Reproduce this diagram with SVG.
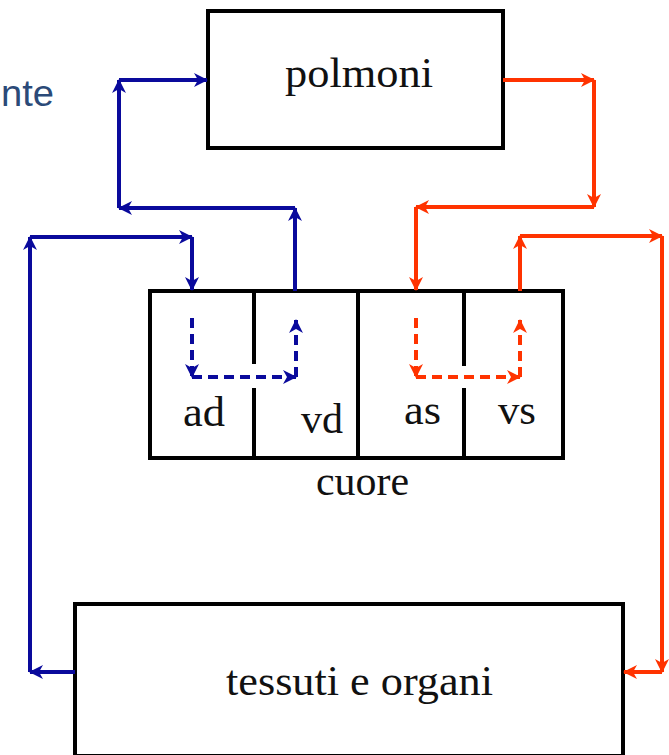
<svg xmlns="http://www.w3.org/2000/svg" width="669" height="755" viewBox="0 0 669 755">
<style>
.box{fill:#fff;stroke:#000;stroke-width:4}
.div{stroke:#000;stroke-width:4}
.lbl{font-size:42px;fill:#111}
.b{stroke:#0a0a9c;stroke-width:4;fill:none;marker-end:url(#ab)}
.r{stroke:#ff3300;stroke-width:4;fill:none;marker-end:url(#ar)}
.d{stroke-dasharray:10 6}
</style>
<defs>
<marker id="ab" viewBox="-15 -9 17 18" refX="0" refY="0" markerWidth="17" markerHeight="18" markerUnits="userSpaceOnUse" orient="auto">
<path d="M1,0 L-13,-7 L-9,0 L-13,7 Z" fill="#0a0a9c"/>
</marker>
<marker id="ar" viewBox="-15 -9 17 18" refX="0" refY="0" markerWidth="17" markerHeight="18" markerUnits="userSpaceOnUse" orient="auto">
<path d="M1,0 L-13,-7 L-9,0 L-13,7 Z" fill="#ff3300"/>
</marker>
</defs>
<rect width="669" height="755" fill="#fff"/>
<text x="1" y="106" font-family="Liberation Sans, Arial, sans-serif" font-size="36" fill="#2b4a78" textLength="53" lengthAdjust="spacingAndGlyphs">nte</text>
<g id="polmoni">
<rect class="box" x="208" y="11" width="295" height="137"/>
<text class="lbl" font-family="Liberation Serif, Times New Roman, DejaVu Serif, serif" x="285" y="87" textLength="148" lengthAdjust="spacingAndGlyphs">polmoni</text>
</g>
<g id="cuore">
<rect class="box" x="150" y="291" width="413" height="167"/>
<line class="div" x1="254" y1="291" x2="254" y2="364"/>
<line class="div" x1="254" y1="388" x2="254" y2="458"/>
<line class="div" x1="358" y1="291" x2="358" y2="458"/>
<line class="div" x1="464" y1="291" x2="464" y2="366"/>
<line class="div" x1="464" y1="388" x2="464" y2="458"/>
<text class="lbl" font-family="Liberation Serif, Times New Roman, DejaVu Serif, serif" x="183" y="426" textLength="42" lengthAdjust="spacingAndGlyphs">ad</text>
<text class="lbl" font-family="Liberation Serif, Times New Roman, DejaVu Serif, serif" x="301" y="433" textLength="42" lengthAdjust="spacingAndGlyphs">vd</text>
<text class="lbl" font-family="Liberation Serif, Times New Roman, DejaVu Serif, serif" x="404" y="424" textLength="37" lengthAdjust="spacingAndGlyphs">as</text>
<text class="lbl" font-family="Liberation Serif, Times New Roman, DejaVu Serif, serif" x="498" y="424" textLength="38" lengthAdjust="spacingAndGlyphs">vs</text>
<text class="lbl" font-family="Liberation Serif, Times New Roman, DejaVu Serif, serif" x="316" y="495" textLength="93" lengthAdjust="spacingAndGlyphs">cuore</text>
</g>
<g id="tessuti">
<rect class="box" x="75" y="604" width="548" height="152"/>
<text class="lbl" font-family="Liberation Serif, Times New Roman, DejaVu Serif, serif" x="226" y="695" textLength="267" lengthAdjust="spacingAndGlyphs">tessuti e organi</text>
</g>
<g id="connectors">
<line class="b" x1="295" y1="291" x2="295" y2="208"/>
<line class="b" x1="295" y1="208" x2="119" y2="208"/>
<line class="b" x1="119" y1="208" x2="119" y2="80"/>
<line class="b" x1="119" y1="80" x2="207" y2="80"/>
<line class="b" x1="75" y1="672" x2="30" y2="672"/>
<line class="b" x1="30" y1="672" x2="30" y2="237"/>
<line class="b" x1="30" y1="237" x2="192" y2="237"/>
<line class="b" x1="192" y1="237" x2="192" y2="290"/>
<line class="r" x1="503" y1="80" x2="594" y2="80"/>
<line class="r" x1="594" y1="80" x2="594" y2="207"/>
<line class="r" x1="594" y1="207" x2="416" y2="207"/>
<line class="r" x1="416" y1="207" x2="416" y2="290"/>
<line class="r" x1="520" y1="291" x2="520" y2="236"/>
<line class="r" x1="520" y1="236" x2="662" y2="236"/>
<line class="r" x1="662" y1="236" x2="662" y2="672"/>
<line class="r" x1="662" y1="672" x2="624" y2="672"/>
<line class="b d" x1="192" y1="318" x2="192" y2="377"/>
<line class="b d" x1="192" y1="377" x2="296" y2="377"/>
<line class="b d" x1="296" y1="377" x2="296" y2="320"/>
<line class="r d" x1="416" y1="318" x2="416" y2="377"/>
<line class="r d" x1="416" y1="377" x2="520" y2="377"/>
<line class="r d" x1="520" y1="377" x2="520" y2="320"/>
</g>
</svg>
